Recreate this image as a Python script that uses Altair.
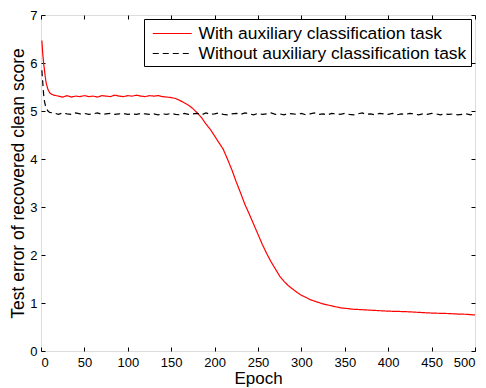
import altair as alt
import pandas as pd

series_names = ["With auxiliary classification task", "Without auxiliary classification task"]

with_epochs = [1, 2, 3, 4, 5, 6, 8, 10, 12, 15, 20, 25, 30, 35, 40, 45, 50, 55, 60, 65, 70, 75, 80, 85, 90,
               95, 100, 105, 110, 115, 120, 125, 130, 135, 140, 145, 150, 155, 160, 165, 170, 175, 180, 185,
               190, 195, 200, 205, 210, 215, 220, 225, 230, 235, 240, 245, 250, 255, 260, 265, 270, 275, 280,
               285, 290, 295, 300, 305, 310, 315, 320, 325, 330, 335, 340, 345, 350, 360, 370, 380, 390, 400,
               410, 420, 430, 440, 450, 460, 470, 480, 490, 500]
with_values = [6.47, 6.20, 6.00, 5.85, 5.70, 5.58, 5.45, 5.38, 5.35, 5.33, 5.31, 5.29, 5.32, 5.29, 5.31,
               5.30, 5.32, 5.30, 5.31, 5.29, 5.32, 5.31, 5.30, 5.33, 5.31, 5.30, 5.32, 5.31, 5.33, 5.31,
               5.30, 5.32, 5.31, 5.32, 5.30, 5.29, 5.28, 5.26, 5.22, 5.17, 5.12, 5.05, 4.96, 4.86, 4.73,
               4.62, 4.48, 4.34, 4.20, 3.99, 3.77, 3.52, 3.29, 3.05, 2.85, 2.64, 2.43, 2.22, 2.03, 1.86,
               1.71, 1.56, 1.45, 1.36, 1.29, 1.22, 1.16, 1.12, 1.07, 1.04, 1.01, 0.98, 0.96, 0.94, 0.92,
               0.90, 0.89, 0.87, 0.86, 0.85, 0.84, 0.83, 0.825, 0.82, 0.81, 0.80, 0.79, 0.785, 0.78, 0.77,
               0.765, 0.75]

without_epochs = [1, 2, 3, 4, 5, 6, 8, 10] + list(range(15, 501, 5))
without_values = [5.85, 5.60, 5.35, 5.20, 5.12, 5.06, 5.00, 4.97,
                  4.96, 4.93, 4.96, 4.94, 4.93, 4.96, 4.94, 4.95, 4.93, 4.94, 4.96, 4.93, 4.94, 4.95,
                  4.93, 4.94, 4.95, 4.93, 4.94, 4.93, 4.95, 4.94, 4.93, 4.94, 4.92, 4.94, 4.93, 4.95,
                  4.93, 4.92, 4.95, 4.93, 4.94, 4.95, 4.92, 4.96, 4.93, 4.94, 4.96, 4.93, 4.92, 4.94,
                  4.95, 4.93, 4.96, 4.94, 4.92, 4.95, 4.93, 4.94, 4.96, 4.93, 4.94, 4.92, 4.95, 4.94,
                  4.93, 4.95, 4.92, 4.94, 4.96, 4.93, 4.94, 4.92, 4.95, 4.94, 4.93, 4.95, 4.93, 4.92,
                  4.94, 4.96, 4.93, 4.94, 4.92, 4.95, 4.94, 4.93, 4.95, 4.92, 4.94, 4.93, 4.95, 4.94,
                  4.92, 4.94, 4.93, 4.95, 4.94, 4.92, 4.94, 4.93, 4.94, 4.92, 4.93, 4.94, 4.92, 4.94]

x_ticks = [0, 50, 100, 150, 200, 250, 300, 350, 400, 450, 500]
y_ticks = [0, 1, 2, 3, 4, 5, 6, 7]

df = pd.concat([
    pd.DataFrame({"epoch": with_epochs, "value": with_values, "series": series_names[0]}),
    pd.DataFrame({"epoch": without_epochs, "value": without_values, "series": series_names[1]}),
])

FONT = "Liberation Sans"
TICK = 4

xs = alt.Scale(domain=[0, 500], nice=False)
ys = alt.Scale(domain=[0, 7], nice=False)

base = alt.Chart(df)

legend_cfg = dict(title=None, orient="top-right", offset=4, strokeColor="black",
                  fillColor="white", padding=4, symbolOffset=13.75, symbolType="M-2,0H2",
                  symbolSize=380, symbolStrokeWidth=1.2, labelOffset=15.75,
                  labelFontSize=17.4, labelFont=FONT, labelColor="black",
                  rowPadding=1, labelLimit=400)

lines = base.mark_line(strokeWidth=1.2).encode(
    x=alt.X("epoch:Q", scale=xs, title="Epoch",
            axis=alt.Axis(orient="bottom", values=x_ticks, offset=-TICK, tickSize=TICK, domain=False,
                          grid=False, labelPadding=5, titlePadding=1, labelFontSize=13,
                          titleFontSize=17, labelFont=FONT, titleFont=FONT, titleFontWeight="normal",
                          labelColor="black", titleColor="black", tickColor="black")),
    y=alt.Y("value:Q", scale=ys, title="Test error of recovered clean score",
            axis=alt.Axis(orient="left", values=y_ticks, offset=-TICK, tickSize=TICK, domain=False,
                          grid=False, labelPadding=4, titlePadding=2.5, labelFontSize=13,
                          titleFontSize=17.5, labelFont=FONT, titleFont=FONT, titleFontWeight="normal",
                          labelColor="black", titleColor="black", tickColor="black")),
    color=alt.Color("series:N", scale=alt.Scale(domain=series_names, range=["#ff0000", "#000000"]),
                    legend=alt.Legend(**legend_cfg)),
    strokeDash=alt.StrokeDash("series:N", scale=alt.Scale(domain=series_names, range=[[1, 0], [6, 4]]),
                              legend=alt.Legend(**legend_cfg)),
)

frame = base.mark_line(strokeOpacity=0).encode(
    x=alt.X("epoch:Q", scale=xs, title=None,
            axis=alt.Axis(orient="top", values=x_ticks, offset=-TICK, tickSize=TICK, domain=False,
                          grid=False, labels=False, tickColor="black")),
    y=alt.Y("value:Q", scale=ys, title=None,
            axis=alt.Axis(orient="right", values=y_ticks, offset=-TICK, tickSize=TICK, domain=False,
                          grid=False, labels=False, tickColor="black")),
    detail="series:N",
)

chart = alt.layer(lines, frame).resolve_axis(x="independent", y="independent").properties(
    width=434, height=336,
    autosize=alt.AutoSizeParams(type="none"),
    padding={"left": 33, "top": 7, "right": 3, "bottom": 37},
).configure_view(stroke="black", strokeWidth=1.2).configure(background="white")

chart.save("out.html", embed_options={"renderer": "svg", "actions": False})
